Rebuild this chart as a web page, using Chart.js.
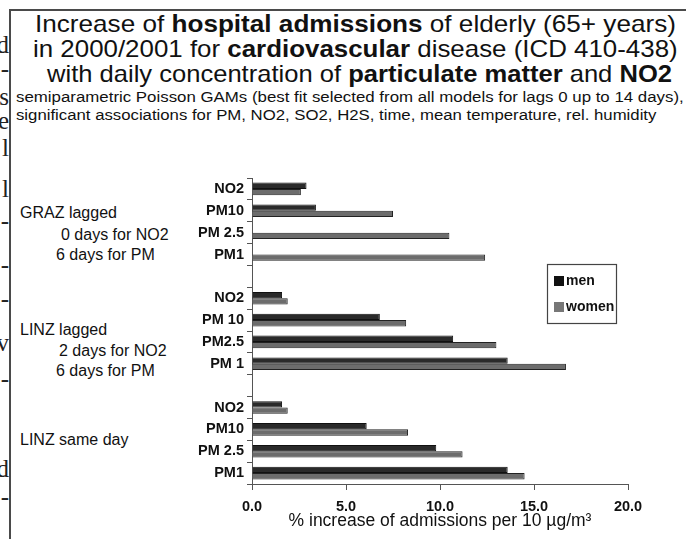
<!DOCTYPE html>
<html>
<head>
<meta charset="utf-8">
<title>Hospital admissions – particulate matter and NO2</title>
<script src="https://cdn.jsdelivr.net/npm/chart.js@4.4.1/dist/chart.umd.min.js"></script>
<style>
  body  { margin:0; width:686px; height:539px; background:#fff; position:relative; overflow:hidden;
          font-family:"Liberation Sans", Arial, sans-serif; color:#111; }
  .frame{ position:absolute; left:9px; top:9px; width:690px; height:540px; border:2px solid #4a4a4a; }
  .t    { position:absolute; white-space:nowrap; line-height:1; transform-origin:0 50%; }
  .ttl  { font-size:24px; }
  .sub  { font-size:14px; }
  .grp  { position:absolute; white-space:nowrap; line-height:1; font-size:16px; }
  .edge { position:absolute; left:-4px; width:13px; text-align:right; line-height:1;
          font-family:"Liberation Serif", serif; font-size:25px; color:#222; }
  #chart{ position:absolute; left:0; top:0; }
</style>
</head>
<body>

<!-- cut-off text of the neighbouring page column -->
<div class="edge" style="top:32px">d</div>
<div class="edge" style="top:56px">-</div>
<div class="edge" style="top:84px">s</div>
<div class="edge" style="top:108px">e</div>
<div class="edge" style="top:135px">l</div>
<div class="edge" style="top:176px">l</div>
<div class="edge" style="top:208px">-</div>
<div class="edge" style="top:252px">-</div>
<div class="edge" style="top:286px">-</div>
<div class="edge" style="top:330px">v</div>
<div class="edge" style="top:366px">-</div>
<div class="edge" style="top:456px">d</div>
<div class="edge" style="top:484px">-</div>

<div class="frame"></div>

<!-- title block, each line stretched to the width it has in the figure -->
<div class="t ttl" data-x="35"  data-w="641" style="top:12px">Increase of <b>hospital admissions</b> of elderly (65+ years)</div>
<div class="t ttl" data-x="33"  data-w="645" style="top:37px">in 2000/2001 for <b>cardiovascular</b> disease (ICD 410-438)</div>
<div class="t ttl" data-x="47"  data-w="625" style="top:62px">with daily concentration of <b>particulate matter</b> and <b>NO2</b></div>
<div class="t sub" data-x="16"  data-w="668" style="top:90px">semiparametric Poisson GAMs (best fit selected from all models for lags 0 up to 14 days),</div>
<div class="t sub" data-x="16"  data-w="640" style="top:108px">significant associations for PM, NO2, SO2, H2S, time, mean temperature, rel. humidity</div>

<!-- group captions -->
<div class="grp" style="left:20px; top:205px">GRAZ lagged</div>
<div class="grp" style="left:61px; top:227px">0 days for NO2</div>
<div class="grp" style="left:56px; top:247px">6 days for PM</div>
<div class="grp" style="left:20px; top:322px">LINZ lagged</div>
<div class="grp" style="left:59px; top:343px">2 days for NO2</div>
<div class="grp" style="left:56px; top:363px">6 days for PM</div>
<div class="grp" style="left:20px; top:432px">LINZ same day</div>

<canvas id="chart" width="686" height="539"></canvas>

<script>
/* ---------- data ---------- */
const categories = ['NO2', 'PM10', 'PM 2.5', 'PM1', '',
                    'NO2', 'PM 10', 'PM2.5', 'PM 1', '',
                    'NO2', 'PM10', 'PM 2.5', 'PM1'];
const men   = [2.9, 3.4, null, null, null,  1.6, 6.8, 10.7, 13.6, null,  1.6, 6.1, 9.8, 13.6];
const women = [2.6, 7.5, 10.5, 12.4, null,  1.9, 8.2, 13.0, 16.7, null,  1.9, 8.3, 11.2, 14.5];
const seriesNames = ['men', 'women'];
const xTicks = [0, 5, 10, 15, 20];
const xTitle = '% increase of admissions per 10 µg/m³';

/* ---------- stretch title lines to their figure width ---------- */
document.querySelectorAll('.t').forEach(el => {
  const w = el.offsetWidth;
  el.style.left = el.dataset.x + 'px';
  el.style.transform = `scaleX(${el.dataset.w / w})`;
});

/* ---------- boxed legend inside the plot ---------- */
const boxLegend = {
  id: 'boxLegend',
  afterDraw(chart, args, o) {
    const ctx = chart.ctx;
    ctx.save();
    ctx.strokeStyle = '#444'; ctx.lineWidth = 1.2;
    ctx.strokeRect(o.x + .5, o.y + .5, o.w, o.h);
    ctx.font = 'bold 14px "Liberation Sans", Arial, sans-serif';
    ctx.textBaseline = 'middle';
    chart.data.datasets.forEach((ds, i) => {
      const y = o.y + o.first + i * o.step;
      ctx.fillStyle = ds.keyColor;
      ctx.fillRect(o.x + 7, y - 5, 10, 10);
      ctx.fillStyle = '#111';
      ctx.fillText(ds.label, o.x + 19, y);
    });
    ctx.restore();
  }
};

const tickFont = { family: '"Liberation Sans", Arial, sans-serif', size: 14.5, weight: 'bold' };

new Chart(document.getElementById('chart'), {
  type: 'bar',
  data: {
    labels: categories,
    datasets: [
      { label: seriesNames[0], data: men,   backgroundColor: '#2a2a2a', borderColor: '#111',
        borderWidth: 1, keyColor: '#111' },
      { label: seriesNames[1], data: women, backgroundColor: '#6c6c6c', borderColor: '#222',
        borderWidth: 1, keyColor: '#777' }
    ]
  },
  options: {
    indexAxis: 'y',
    responsive: false,
    animation: false,
    datasets: { bar: { categoryPercentage: 0.58, barPercentage: 1 } },
    layout: { padding: { left: 182, right: 58, top: 178, bottom: 7 } },
    plugins: {
      legend: { display: false },
      tooltip: { enabled: false },
      boxLegend: { x: 547, y: 264, w: 69, h: 59, first: 17, step: 26 }
    },
    scales: {
      x: {
        min: 0, max: 20,
        afterBuildTicks: ax => { ax.ticks = xTicks.map(v => ({ value: v })); },
        afterFit: ax => { ax.height = 48; },
        grid: { drawOnChartArea: false, tickLength: 6, color: '#555' },
        border: { display: true, color: '#555', width: 1 },
        ticks: { font: tickFont, color: '#111', padding: 8, maxRotation: 0,
                 callback: v => v.toFixed(1) },
        title: { display: true, text: xTitle, color: '#111', padding: 0,
                 font: { family: '"Liberation Sans", Arial, sans-serif', size: 17.5 } }
      },
      y: {
        afterFit: ax => { ax.width = 70; },
        grid: { drawOnChartArea: false, offset: true, tickLength: 5, color: '#555' },
        border: { display: true, color: '#555', width: 1 },
        ticks: { font: tickFont, color: '#111', padding: 3, autoSkip: false }
      }
    }
  },
  plugins: [boxLegend]
});
</script>
</body>
</html>
